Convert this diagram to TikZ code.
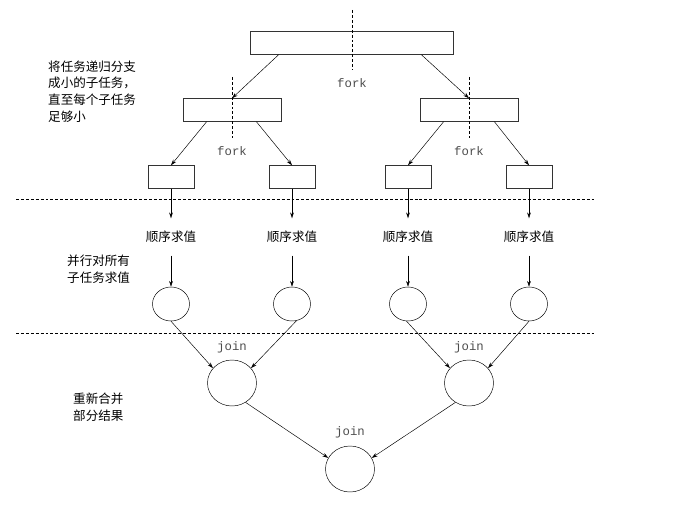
\documentclass[tikz,border=0pt]{standalone}
\usepackage{fontspec}
\setmonofont{Liberation Mono}
\newfontfamily\cjk{Noto Sans CJK SC}
\usetikzlibrary{shapes.geometric, arrows.meta}
\tikzstyle{task}=[rectangle, draw=black!80, line width=0.7pt, inner sep=0pt, minimum height=0.68cm]
\tikzstyle{leaf}=[ellipse, draw, thin, inner sep=0pt, minimum width=1.11cm, minimum height=1.02cm]
\tikzstyle{merge}=[ellipse, draw, thin, inner sep=0pt, minimum width=1.47cm, minimum height=1.38cm]
\tikzstyle{flow}=[-{Stealth[length=5pt, width=3.2pt]}, thin]
\tikzstyle{cut}=[thin, dash pattern=on 2.5pt off 1.7pt]
\tikzstyle{code}=[font=\fontsize{10.5}{12}\selectfont\ttfamily, text=black!70, inner sep=0pt]
\tikzstyle{note}=[font=\fontsize{10.7}{14.3}\selectfont\cjk, align=left, anchor=west, inner sep=0pt]
\tikzstyle{seq}=[font=\fontsize{10.7}{12.4}\selectfont\cjk, inner sep=0pt, outer sep=11pt]

\begin{document}
\begin{tikzpicture}[x=0.03cm, y=-0.03cm]
        \useasboundingbox (0, 0) rectangle (674, 506);

        %% Fork: dividir las tareas
        \node at (48, 91.5) [note] {将任务递归分支\\成小的子任务，\\直至每个子任务\\足够小};
        % Cajas
        \node[task, minimum width=6.09cm] (t) at (351.5, 43) {};
        \node[task, minimum width=2.94cm] (t_1) at (232, 110) {};
        \node[task, minimum width=2.94cm] (t_2) at (469, 110) {};
        \node[task, minimum width=1.38cm] (t_11) at (171, 177) {};
        \node[task, minimum width=1.38cm] (t_12) at (292, 177) {};
        \node[task, minimum width=1.38cm] (t_21) at (408, 177) {};
        \node[task, minimum width=1.38cm] (t_22) at (529, 177) {};
        % Cortes
        \draw[cut] (352, 10) -- (352, 70);
        \draw[cut] (232, 77) -- (232, 138);
        \draw[cut] (469, 77) -- (469, 138);
        \node[code] (f) at (352, 83) {fork};
        \node[code] (f_1) at (232, 151) {fork};
        \node[code] (f_2) at (469, 151) {fork};
        % Flechas
        \draw[flow] ([xshift=0.87cm]t.south west) -- (t_1.north);
        \draw[flow] ([xshift=-0.96cm]t.south east) -- (t_2.north);
        \draw[flow] ([xshift=0.72cm]t_1.south west) -- (t_11.north);
        \draw[flow] ([xshift=-0.75cm]t_1.south east) -- (t_12.north);
        \draw[flow] ([xshift=0.72cm]t_2.south west) -- (t_21.north);
        \draw[flow] ([xshift=-0.72cm]t_2.south east) -- (t_22.north);

        \draw[cut] (16, 199) -- (594, 199);

        %% Evaluar en paralelo
        \node at (67, 269) [note] {并行对所有\\子任务求值};
        \node[seq] (s_11) at (171, 237) {顺序求值};
        \node[seq] (s_12) at (292, 237) {顺序求值};
        \node[seq] (s_21) at (408, 237) {顺序求值};
        \node[seq] (s_22) at (529, 237) {顺序求值};
        \node[leaf] (v_11) at (171, 304) {};
        \node[leaf] (v_12) at (292, 304) {};
        \node[leaf] (v_21) at (408, 304) {};
        \node[leaf] (v_22) at (529, 304) {};
        % Flechas
        \draw[flow] (t_11.south) -- (s_11.north);
        \draw[flow] (t_12.south) -- (s_12.north);
        \draw[flow] (t_21.south) -- (s_21.north);
        \draw[flow] (t_22.south) -- (s_22.north);
        \draw[flow] (s_11.south) -- (v_11.north);
        \draw[flow] (s_12.south) -- (v_12.north);
        \draw[flow] (s_21.south) -- (v_21.north);
        \draw[flow] (s_22.south) -- (v_22.north);

        \draw[cut] (16, 333) -- (594, 333);

        %% Join: combinar resultados
        \node at (73, 407) [note] {重新合并\\部分结果};
        \node[merge] (j_1) at (232, 383) {};
        \node[merge] (j_2) at (469, 383) {};
        \node[merge] (j) at (350, 469) {};
        \node[code] (o_1) at (232, 347) {join};
        \node[code] (o_2) at (469, 347) {join};
        \node[code] (o) at (350, 432) {join};
        % Flechas
        \draw[flow] (v_11.south) -- (j_1.142);
        \draw[flow] (v_12.-75) -- (j_1.38);
        \draw[flow] (v_21.-95) -- (j_2.142);
        \draw[flow] (v_22.south) -- (j_2.38);
        \draw[flow] (j_1.-55) -- (j.153);
        \draw[flow] (j_2.-125) -- (j.27);
\end{tikzpicture}
\end{document}
